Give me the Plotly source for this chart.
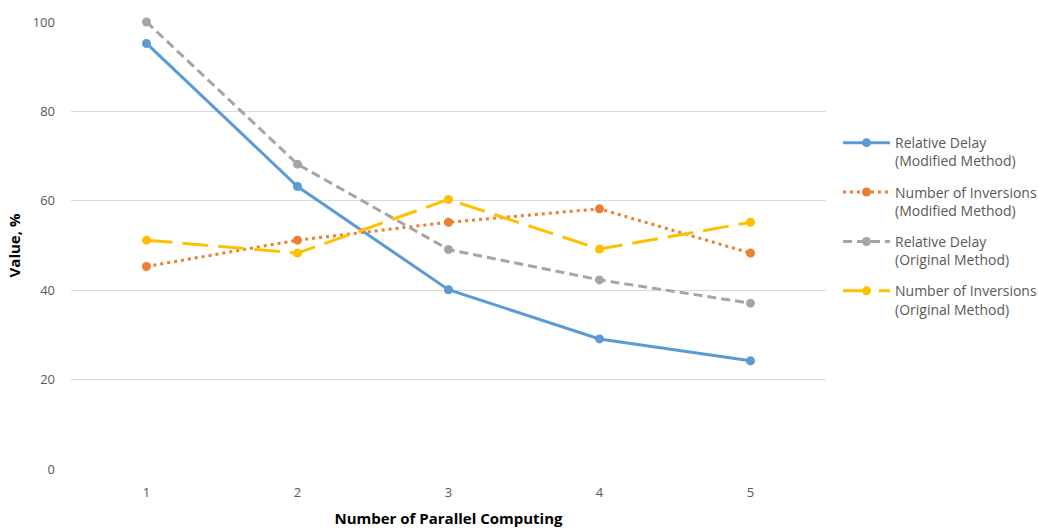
import plotly.graph_objects as go

# Number of parallel computing units
categories = [1, 2, 3, 4, 5]

# Series values, %
relative_delay_modified = [95.2, 63.2, 40.1, 29.1, 24.2]
inversions_modified = [45.3, 51.2, 55.2, 58.2, 48.3]
relative_delay_original = [100.0, 68.2, 49.1, 42.3, 37.1]
inversions_original = [51.2, 48.3, 60.3, 49.2, 55.2]

series_names = [
    "Relative Delay<br>(Modified Method)",
    "Number of Inversions<br>(Modified Method)",
    "Relative Delay<br>(Original Method)",
    "Number of Inversions<br>(Original Method)",
]

y_ticks = [0, 20, 40, 60, 80, 100]

FONT = "Open Sans"
TEXT = "#595959"

styles = [
    dict(color="#5b9bd5", dash="solid", width=3),
    dict(color="#ed7d31", dash="3px,4px", width=3),
    dict(color="#a5a5a5", dash="9px,5px", width=3),
    dict(color="#ffc000", dash="26px,10px", width=3),
]

fig = go.Figure()
for i, (name, vals, st) in enumerate(zip(
    series_names,
    [relative_delay_modified, inversions_modified, relative_delay_original, inversions_original],
    styles,
)):
    fig.add_trace(
        go.Scatter(
            x=categories,
            y=vals,
            name=name,
            legendgroup=f"g{i}",
            mode="lines+markers",
            line=dict(color=st["color"], dash=st["dash"], width=st["width"]),
            marker=dict(color=st["color"], size=9),
            cliponaxis=False,
        )
    )

fig.update_layout(
    width=1038,
    height=528,
    margin=dict(l=71, r=212, t=22, b=59, autoexpand=False),
    plot_bgcolor="white",
    paper_bgcolor="white",
    font=dict(family=FONT, size=14, color=TEXT),
    legend=dict(
        x=1.0159,
        y=0.765,
        xanchor="left",
        yanchor="top",
        valign="top",
        traceorder="grouped",
        itemwidth=47,
        font=dict(family=FONT, size=14, color=TEXT),
        tracegroupgap=10,
        bgcolor="rgba(0,0,0,0)",
    ),
    xaxis=dict(
        range=[0.5, 5.5],
        tickvals=categories,
        ticktext=[str(c) for c in categories],
        showgrid=False,
        zeroline=False,
        showline=False,
        ticks="",
        ticklabelstandoff=14,
        tickfont=dict(family=FONT, size=13, color=TEXT),
        title=dict(
            text="<b>Number of Parallel Computing</b>",
            font=dict(family=FONT, size=15, color="#000000"),
            standoff=13,
        ),
    ),
    yaxis=dict(
        range=[0, 100],
        tickvals=y_ticks,
        showgrid=True,
        gridcolor="#d9d9d9",
        gridwidth=1,
        zeroline=False,
        showline=False,
        ticks="",
        ticklabelstandoff=15,
        tickfont=dict(family=FONT, size=13, color=TEXT),
        title=dict(
            text="<b>Value, %</b>",
            font=dict(family=FONT, size=15, color="#000000"),
            standoff=8,
        ),
    ),
)

fig.write_html("out.html")
